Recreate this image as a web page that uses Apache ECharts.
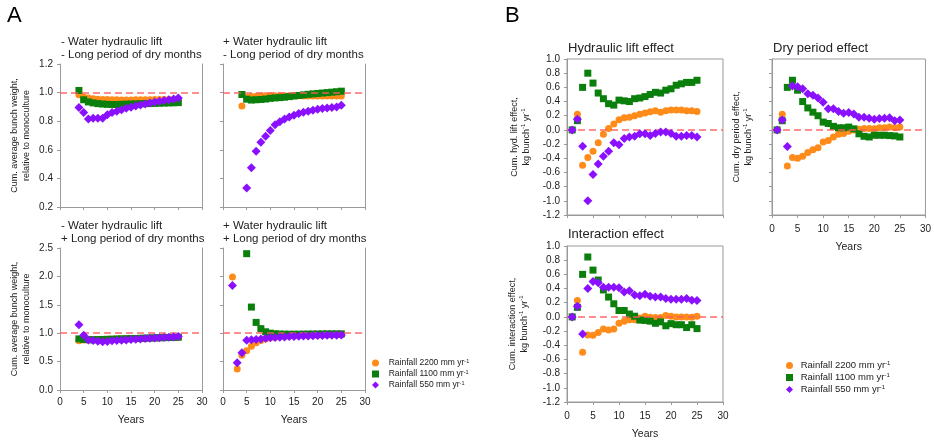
<!DOCTYPE html>
<html>
<head>
<meta charset="utf-8">
<script src="https://cdn.jsdelivr.net/npm/echarts@6/dist/echarts.min.js"></script>
<style>
html,body{margin:0;padding:0;background:#fff;}
#c{width:934px;height:443px;}
</style>
</head>
<body>
<div id="c"></div>
<script>
// ---------- Data ----------
const years1to25 = [1,2,3,4,5,6,7,8,9,10,11,12,13,14,15,16,17,18,19,20,21,22,23,24,25];
const years2to25 = years1to25.slice(1);
const years4to25 = years1to25.slice(3);
const years5to25 = years1to25.slice(4);

const seriesNames = ['Rainfall 2200 mm yr-1', 'Rainfall 1100 mm yr-1', 'Rainfall 550 mm yr-1'];
const xTicks = [0, 5, 10, 15, 20, 25, 30];

// Panel A, top-left: - hydraulic lift, - long dry period (years 4..25)
const a1Orange = [0.985,0.970,0.962,0.957,0.954,0.952,0.951,0.950,0.950,0.949,0.949,0.949,0.950,0.950,0.950,0.950,0.951,0.951,0.951,0.951,0.952,0.952];
const a1Green  = [1.015,0.950,0.935,0.928,0.923,0.920,0.918,0.917,0.917,0.918,0.919,0.920,0.921,0.922,0.923,0.924,0.925,0.926,0.927,0.928,0.929,0.930];
const a1Purple = [0.895,0.860,0.815,0.820,0.820,0.820,0.845,0.860,0.870,0.880,0.890,0.898,0.907,0.914,0.921,0.928,0.935,0.940,0.945,0.950,0.955,0.963];

// Panel A, top-right: + hydraulic lift, - long dry period
const a2Orange = [0.907,0.967,0.972,0.975,0.977,0.978,0.978,0.978,0.978,0.978,0.978,0.978,0.978,0.977,0.977,0.977,0.977,0.977,0.977,0.977,0.977,0.977]; // years 4..25
const a2Green  = [0.987,0.954,0.948,0.950,0.952,0.955,0.960,0.963,0.965,0.968,0.972,0.976,0.980,0.984,0.988,0.991,0.994,0.997,1.000,1.003,1.006,1.010]; // years 4..25
const a2Purple = [0.333,0.474,0.590,0.652,0.695,0.735,0.775,0.797,0.815,0.830,0.842,0.853,0.862,0.870,0.877,0.883,0.888,0.892,0.896,0.900,0.912]; // years 5..25

// Panel A, bottom-left: - hydraulic lift, + long dry period (years 4..25)
const a3Orange = [0.865,0.880,0.885,0.885,0.888,0.890,0.893,0.895,0.898,0.900,0.903,0.905,0.908,0.910,0.913,0.915,0.918,0.920,0.923,0.925,0.928,0.930];
const a3Green  = [0.900,0.890,0.885,0.885,0.887,0.890,0.892,0.895,0.897,0.900,0.902,0.905,0.907,0.910,0.912,0.915,0.917,0.920,0.922,0.925,0.927,0.930];
const a3Purple = [1.150,0.965,0.880,0.870,0.860,0.850,0.855,0.865,0.870,0.875,0.880,0.890,0.895,0.900,0.905,0.910,0.915,0.920,0.925,0.930,0.935,0.940];

// Panel A, bottom-right: + hydraulic lift, + long dry period
const a4Orange = [1.99,0.37,0.61,0.69,0.77,0.83,0.87,0.90,0.92,0.93,0.94,0.945,0.95,0.955,0.958,0.96,0.962,0.964,0.966,0.968,0.97,0.971,0.972,0.973]; // years 2..25
const a4Green  = [2.40,1.46,1.19,1.08,1.025,1.00,0.99,0.985,0.983,0.982,0.982,0.982,0.983,0.984,0.985,0.986,0.987,0.988,0.988,0.988,0.988]; // years 5..25
const a4Purple = [1.84,0.48,0.655,0.875,0.885,0.89,0.90,0.91,0.92,0.925,0.93,0.935,0.94,0.943,0.946,0.949,0.952,0.955,0.958,0.96,0.962,0.964,0.966,0.968]; // years 2..25

// Panel B (years 1..25)
const hydOrange = [0,0.22,-0.50,-0.39,-0.30,-0.18,-0.06,0.02,0.085,0.145,0.17,0.18,0.20,0.22,0.24,0.255,0.27,0.25,0.27,0.28,0.28,0.28,0.27,0.27,0.26];
const hydGreen  = [0,0.13,0.60,0.80,0.66,0.52,0.44,0.37,0.35,0.42,0.41,0.40,0.44,0.45,0.47,0.50,0.53,0.52,0.56,0.58,0.63,0.65,0.67,0.67,0.70];
const hydPurple = [0,0.15,-0.23,-1.00,-0.63,-0.48,-0.37,-0.30,-0.18,-0.21,-0.12,-0.10,-0.09,-0.055,-0.055,-0.08,-0.05,-0.03,-0.03,-0.05,-0.09,-0.09,-0.08,-0.08,-0.10];

const dryOrange = [0,0.22,-0.51,-0.39,-0.40,-0.37,-0.32,-0.28,-0.25,-0.17,-0.15,-0.10,-0.06,-0.05,-0.02,0.0,0.01,0.02,0.02,0.015,0.03,0.03,0.04,0.03,0.04];
const dryGreen  = [0,0.13,0.60,0.70,0.56,0.40,0.31,0.25,0.20,0.11,0.09,0.05,0.03,0.03,0.04,0.015,-0.055,-0.09,-0.10,-0.075,-0.075,-0.075,-0.08,-0.085,-0.10];
const dryPurple = [0,0.14,-0.235,0.62,0.61,0.58,0.51,0.49,0.45,0.39,0.30,0.30,0.26,0.235,0.245,0.225,0.18,0.18,0.165,0.15,0.16,0.165,0.17,0.13,0.14];

const intOrange = [0,0.23,-0.50,-0.255,-0.26,-0.22,-0.17,-0.185,-0.17,-0.09,-0.06,-0.04,-0.04,-0.015,0.01,-0.005,-0.01,-0.01,0.02,0.01,0,0,0,-0.005,0.01];
const intGreen  = [0,0.135,0.60,0.845,0.66,0.52,0.38,0.28,0.185,0.09,0.09,0.04,0.01,-0.045,-0.05,-0.06,-0.09,-0.07,-0.125,-0.095,-0.11,-0.11,-0.15,-0.11,-0.165];
const intPurple = [0,0.15,-0.24,0.40,0.50,0.48,0.42,0.42,0.42,0.41,0.35,0.37,0.31,0.30,0.32,0.29,0.28,0.28,0.26,0.25,0.25,0.25,0.26,0.235,0.23];

// ---------- Styling ----------
const GRAY = '#9a9a9a';
const TXT = '#222';
const COL = ['#ff8c1a', '#0b7f0b', '#8a10ff'];
const SYM = ['circle', 'rect', 'diamond'];
const SYMSIZE = [7, 7, 9];
const FONT = 'Liberation Sans, Arial, sans-serif';

const grids = [
  {left: 60,  top: 64,  width: 142, height: 143},  // A TL
  {left: 223, top: 64,  width: 142, height: 143},  // A TR
  {left: 60,  top: 248, width: 142, height: 142},  // A BL
  {left: 223, top: 248, width: 142, height: 142},  // A BR
  {left: 567, top: 59,  width: 156, height: 156, show: true, borderColor: GRAY, borderWidth: 1}, // B hyd
  {left: 772, top: 59,  width: 157, height: 156, show: true, borderColor: GRAY, borderWidth: 1}, // B dry
  {left: 567, top: 246, width: 156, height: 156, show: true, borderColor: GRAY, borderWidth: 1}  // B int
];

const xLabelsShown = [false, false, true, true, false, true, true];
const xAxes = grids.map((g, i) => ({
  type: 'value', gridIndex: i, min: xTicks[0], max: xTicks[xTicks.length - 1], interval: 5,
  axisLine: {show: true, onZero: false, lineStyle: {color: GRAY}},
  axisTick: {show: true, length: 3, lineStyle: {color: GRAY}},
  axisLabel: {show: xLabelsShown[i], fontSize: 10, color: TXT, margin: i >= 4 ? 9 : 7, fontFamily: FONT},
  splitLine: {show: false},
  name: xLabelsShown[i] ? 'Years' : '', nameLocation: 'middle', nameGap: i >= 4 ? 27 : 25,
  nameTextStyle: {fontSize: 10.5, color: TXT, fontFamily: FONT}
}));

const fmt1 = v => (Math.abs(v) < 1e-9 ? '0.0' : v.toFixed(1));
const supRich = {sup: {fontSize: 6, verticalAlign: 'top', lineHeight: 11, color: TXT, fontFamily: FONT}};
const unitLine = 'kg bunch{sup|-1} yr{sup|-1}';

function yAx(i, min, max, interval, showLabels, name, nameGap) {
  return {
    type: 'value', gridIndex: i, min: min, max: max, interval: interval,
    axisLine: {show: true, onZero: false, lineStyle: {color: GRAY}},
    axisTick: {show: true, length: 3, lineStyle: {color: GRAY}},
    axisLabel: {show: showLabels, fontSize: 10, color: TXT, margin: 7, formatter: fmt1, fontFamily: FONT},
    splitLine: {show: false},
    name: name || '', nameLocation: 'middle', nameRotate: 90, nameGap: nameGap || 0,
    nameTextStyle: {fontSize: 9, lineHeight: 11.5, color: TXT, fontFamily: FONT, rich: supRich}
  };
}
function yRight(i, min, max) {
  return {
    type: 'value', gridIndex: i, min: min, max: max, position: 'right',
    axisLine: {show: true, onZero: false, lineStyle: {color: GRAY}},
    axisTick: {show: false}, axisLabel: {show: false}, splitLine: {show: false}
  };
}

const nameA = 'Cum. average bunch weight,\nrelative to monoculture';
const yAxes = [
  yAx(0, 0.2, 1.2, 0.2, true, nameA, 28),
  yAx(1, 0.2, 1.2, 0.2, false),
  yAx(2, 0, 2.5, 0.5, true, nameA, 28),
  yAx(3, 0, 2.5, 0.5, false),
  yAx(4, -1.2, 1.0, 0.2, true, 'Cum. hyd. lift effect,\n' + unitLine, 35),
  yAx(5, -1.2, 1.0, 0.2, false, 'Cum. dry period effect,\n' + unitLine, 18),
  yAx(6, -1.2, 1.0, 0.2, true, 'Cum. interaction effect,\n' + unitLine, 37),
  yRight(0, 0.2, 1.2), yRight(1, 0.2, 1.2), yRight(2, 0, 2.5), yRight(3, 0, 2.5)
];

const pts = (years, vals) => vals.map((v, k) => [years[k], v]);

const panelData = [
  {ref: 1, sets: [[years4to25, a1Orange], [years4to25, a1Green], [years4to25, a1Purple]]},
  {ref: 1, sets: [[years4to25, a2Orange], [years4to25, a2Green], [years5to25, a2Purple]]},
  {ref: 1, sets: [[years4to25, a3Orange], [years4to25, a3Green], [years4to25, a3Purple]]},
  {ref: 1, sets: [[years2to25, a4Orange], [years5to25, a4Green], [years2to25, a4Purple]]},
  {ref: 0, sets: [[years1to25, hydOrange], [years1to25, hydGreen], [years1to25, hydPurple]]},
  {ref: 0, sets: [[years1to25, dryOrange], [years1to25, dryGreen], [years1to25, dryPurple]]},
  {ref: 0, sets: [[years1to25, intOrange], [years1to25, intGreen], [years1to25, intPurple]]}
];

const series = [];
panelData.forEach((p, gi) => {
  p.sets.forEach((s, si) => {
    const ser = {
      type: 'scatter', name: seriesNames[si], xAxisIndex: gi, yAxisIndex: gi,
      symbol: SYM[si], symbolSize: SYMSIZE[si],
      itemStyle: {color: COL[si], opacity: 1},
      data: pts(s[0], s[1]), z: 3 + si
    };
    if (si === 0) {
      ser.markLine = {
        silent: true, symbol: 'none', label: {show: false}, animation: false,
        lineStyle: {color: '#ff5a5a', type: [7, 4], width: 1.5, opacity: 0.9},
        data: [{yAxis: p.ref}]
      };
    }
    series.push(ser);
  });
});

const legendFmt = n => ' ' + n.replace('yr-1', 'yr{sup|-1}');
const legendData = seriesNames.map((n, i) => ({name: n, icon: SYM[i]}));

const titleStyle = {fontSize: 11.5, lineHeight: 13, fontWeight: 'normal', color: TXT, fontFamily: FONT};
const bTitleStyle = {fontSize: 13, fontWeight: 'normal', color: TXT, fontFamily: FONT};

const option = {
  animation: false,
  backgroundColor: '#fff',
  textStyle: {fontFamily: FONT},
  grid: grids,
  xAxis: xAxes,
  yAxis: yAxes,
  title: [
    {text: 'A', left: 7, top: 5, padding: 0, textStyle: {fontSize: 22, fontWeight: 'normal', color: '#000', fontFamily: FONT}},
    {text: 'B', left: 505, top: 5, padding: 0, textStyle: {fontSize: 22, fontWeight: 'normal', color: '#000', fontFamily: FONT}},
    {text: '- Water hydraulic lift\n- Long period of dry months', left: 61, top: 35, padding: 0, textStyle: titleStyle},
    {text: '+ Water hydraulic lift\n- Long period of dry months', left: 223, top: 35, padding: 0, textStyle: titleStyle},
    {text: '- Water hydraulic lift\n+ Long period of dry months', left: 61, top: 219, padding: 0, textStyle: titleStyle},
    {text: '+ Water hydraulic lift\n+ Long period of dry months', left: 223, top: 219, padding: 0, textStyle: titleStyle},
    {text: 'Hydraulic lift effect', left: 568, top: 42, padding: 0, textStyle: bTitleStyle},
    {text: 'Dry period effect', left: 773, top: 42, padding: 0, textStyle: bTitleStyle},
    {text: 'Interaction effect', left: 568, top: 228, padding: 0, textStyle: bTitleStyle}
  ],
  legend: [
    {
      left: 372, top: 358, orient: 'vertical', selectedMode: false, padding: 0,
      itemWidth: 7, itemHeight: 7, itemGap: 1,
      textStyle: {fontSize: 8.5, lineHeight: 10, color: TXT, fontFamily: FONT, rich: {sup: {fontSize: 5.5, verticalAlign: 'top', lineHeight: 10, color: TXT}}},
      formatter: n => '  ' + n.replace('yr-1', 'yr{sup|-1}'),
      data: legendData
    },
    {
      left: 786, top: 360, orient: 'vertical', selectedMode: false, padding: 0,
      itemWidth: 7, itemHeight: 7, itemGap: 1,
      textStyle: {fontSize: 9.5, lineHeight: 11, color: TXT, fontFamily: FONT, rich: {sup: {fontSize: 6, verticalAlign: 'top', lineHeight: 11, color: TXT}}},
      formatter: legendFmt,
      data: legendData
    }
  ],
  series: series
};

const chart = echarts.init(document.getElementById('c'), null, {renderer: 'canvas'});
chart.setOption(option);
</script>
</body>
</html>
